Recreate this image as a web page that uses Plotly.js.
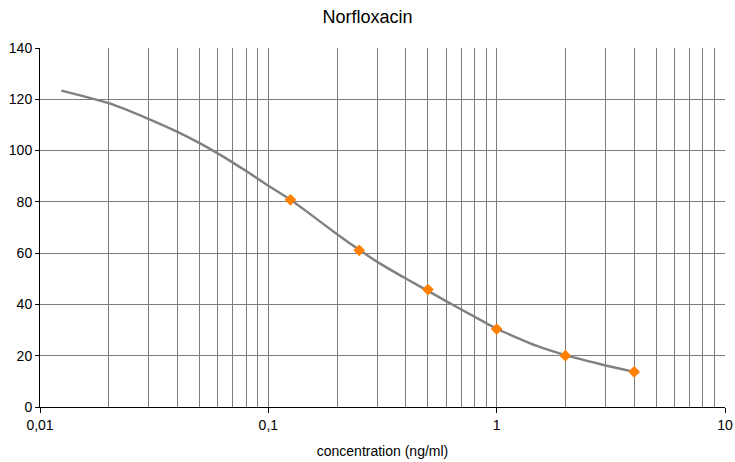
<!DOCTYPE html>
<html>
<head>
<meta charset="utf-8">
<script src="https://cdn.plot.ly/plotly-3.0.1.min.js"></script>
<style>html,body{margin:0;padding:0;background:#fff;}#chart{width:735px;height:462px;}</style>
</head>
<body>
<div id="chart"></div>
<script>
// Measured points
const pointConc = [0.125, 0.25, 0.5, 1, 2, 4];
const pointResp = [80.8, 61.1, 45.8, 30.4, 20.0, 13.7];
// Fitted curve
const curveConc = [0.0124, 0.02, 0.03, 0.04, 0.05, 0.06, 0.07, 0.08, 0.1, 0.125, 0.15, 0.2, 0.25, 0.3, 0.4, 0.5, 0.6, 0.7, 0.8, 0.9, 1, 1.5, 2, 3, 4, 4.2];
const curveResp = [123.4, 118.5, 112.3, 107.3, 102.9, 98.9, 95.3, 92.0, 86.3, 80.8, 75.7, 67.4, 61.3, 56.6, 50.1, 45.3, 41.3, 38.0, 35.2, 32.7, 30.5, 23.8, 20.2, 16.2, 13.7, 13.3];
// Axis ticks
const xTickVals = [0.01, 0.1, 1, 10];
const xTickText = ["0,01", "0,1", "1", "10"];
const xMinorVals = [0.02,0.03,0.04,0.05,0.06,0.07,0.08,0.09,0.2,0.3,0.4,0.5,0.6,0.7,0.8,0.9,2,3,4,5,6,7,8,9];
const yTickVals = [0, 20, 40, 60, 80, 100, 120, 140];

const gridCol = '#7d7d7d';
const traces = [
  {x: curveConc, y: curveResp, type: 'scatter', mode: 'lines', line: {color: '#808080', width: 2.4, shape: 'spline', smoothing: 0.6}, hoverinfo: 'skip'},
  {x: pointConc, y: pointResp, type: 'scatter', mode: 'markers', marker: {symbol: 'diamond', color: '#ff8000', size: 9}}
];
const layout = {
  width: 735, height: 462,
  margin: {l: 40, r: 10, t: 48, b: 55},
  paper_bgcolor: '#fff', plot_bgcolor: '#fff',
  showlegend: false,
  font: {family: 'Liberation Sans, Arial, sans-serif', color: '#000', size: 14},
  title: {text: 'Norfloxacin', x: 0.5, xanchor: 'center', y: 0.963, yanchor: 'middle', font: {size: 18, color: '#000'}},
  xaxis: {
    type: 'log', range: [-2, 1],
    tickmode: 'array', tickvals: xTickVals, ticktext: xTickText,
    ticks: 'outside', ticklen: 5, tickcolor: '#000', tickwidth: 1,
    showgrid: true, gridcolor: gridCol, gridwidth: 1,
    minor: {tickmode: 'array', tickvals: xMinorVals, showgrid: true, gridcolor: gridCol, gridwidth: 1, ticks: ''},
    showline: true, linecolor: '#000', linewidth: 1,
    zeroline: false,
    tickfont: {size: 14},
    title: {text: 'concentration (ng/ml)', font: {size: 14}, standoff: 14}
  },
  yaxis: {
    range: [0, 140], tickmode: 'array', tickvals: yTickVals,
    ticks: 'outside', ticklen: 4, tickcolor: '#000',
    showgrid: true, gridcolor: gridCol, gridwidth: 1,
    showline: true, linecolor: '#000', linewidth: 1,
    zeroline: false, tickfont: {size: 14}
  }
};
Plotly.newPlot('chart', traces, layout, {displayModeBar: false, staticPlot: true});
</script>
</body>
</html>
